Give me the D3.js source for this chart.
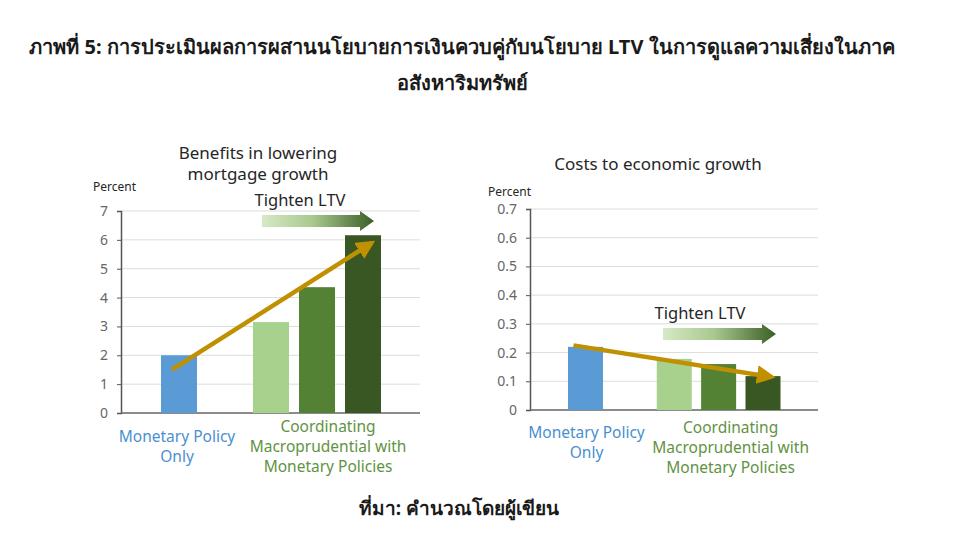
<!DOCTYPE html>
<html><head><meta charset="utf-8">
<script src="https://cdn.jsdelivr.net/npm/d3@7"></script>
<style>
body{margin:0;background:#fff;}
svg{display:block;font-family:"Noto Sans","Open Sans",sans-serif;}
</style></head>
<body>
<svg id="c" width="960" height="538"></svg>
<script>
// ---- data ----
const titleLines = ["ภาพที่ 5: การประเมินผลการผสานนโยบายการเงินควบคู่กับนโยบาย LTV ในการดูแลความเสี่ยงในภาค", "อสังหาริมทรัพย์"];
const sourceText = "ที่มา: คำนวณโดยผู้เขียน";
const slots = ["Monetary Policy Only", "gap", "LTV 1", "LTV 2", "LTV 3"];
const barSlots = ["Monetary Policy Only", "LTV 1", "LTV 2", "LTV 3"];
const benefitValues = [2.0, 3.15, 4.36, 6.16];
const costValues = [0.22, 0.178, 0.16, 0.118];
const benefitTicks = [0, 1, 2, 3, 4, 5, 6, 7];
const costTicks = [0, 0.1, 0.2, 0.3, 0.4, 0.5, 0.6, 0.7];
const benefitTrend = [1.5, 5.9];   // trend arrow start / end values
const costTrend = [0.225, 0.115];
const groupLabelA = ["Monetary Policy", "Only"];
const groupLabelB = ["Coordinating", "Macroprudential with", "Monetary Policies"];
const benefitTitle = ["Benefits in lowering", "mortgage growth"];
const costTitle = ["Costs to economic growth"];
const barColors = ["#5b9bd5", "#a9d18e", "#548235", "#385723"];

const svg = d3.select("#c");
const defs = svg.append("defs");
const g1 = defs.append("linearGradient").attr("id", "ltvGrad");
g1.append("stop").attr("offset", "0%").attr("stop-color", "#d6e9c6");
g1.append("stop").attr("offset", "45%").attr("stop-color", "#a9c98e");
g1.append("stop").attr("offset", "100%").attr("stop-color", "#3b5e27");
defs.append("marker").attr("id", "ohead").attr("viewBox", "0 0 10 10")
  .attr("refX", 8).attr("refY", 5).attr("markerWidth", 4.2).attr("markerHeight", 4.2)
  .attr("orient", "auto").attr("markerUnits", "strokeWidth")
  .append("path").attr("d", "M0,0 L10,5 L0,10 z").attr("fill", "#bf9000");

// title
svg.append("g").selectAll("text").data(titleLines).join("text")
  .attr("x", 462).attr("y", (d, i) => 54 + i * 36)
  .attr("text-anchor", "middle").attr("font-size", 20).attr("font-weight", "bold")
  .attr("fill", "#1a1a1a").text(d => d);
svg.append("text").attr("x", 459).attr("y", 515).attr("text-anchor", "middle")
  .attr("font-size", 19).attr("font-weight", "bold").attr("fill", "#1a1a1a").text(sourceText);

function panel(o) {
  const y = d3.scaleLinear().domain([0, o.ticks[o.ticks.length - 1]]).range([o.y0, o.y1]);
  const x = d3.scalePoint().domain(slots).range([o.c0, o.c1]);
  const g = svg.append("g");
  // grid
  g.append("g").selectAll("line").data(o.ticks.slice(1)).join("line")
    .attr("x1", o.ax).attr("x2", o.gx).attr("y1", d => y(d)).attr("y2", d => y(d))
    .attr("stroke", "#dcdcdc").attr("stroke-width", 1);
  // axis
  const ax = g.append("g").attr("transform", `translate(${o.ax},0)`)
    .call(d3.axisLeft(y).tickValues(o.ticks).tickSize(4).tickPadding(9).tickFormat(o.fmt));
  ax.select(".domain").attr("stroke", "#555").attr("stroke-width", 1.5);
  ax.selectAll(".tick line").attr("stroke", "#555");
  ax.selectAll("text").attr("font-size", 14).attr("fill", "#666").attr("font-family", "'Noto Sans',sans-serif");
  g.append("line").attr("x1", o.ax).attr("x2", o.gx).attr("y1", y(0)).attr("y2", y(0))
    .attr("stroke", "#666").attr("stroke-width", 1.3);
  // bars
  g.append("g").selectAll("rect").data(o.values).join("rect")
    .attr("x", (d, i) => x(barSlots[i]) - o.bw / 2).attr("width", o.bw)
    .attr("y", d => y(d)).attr("height", d => y(0) - y(d))
    .attr("fill", (d, i) => barColors[i]);
  // trend arrow
  g.append("line")
    .attr("x1", x(barSlots[0]) + o.trendDx[0]).attr("y1", y(o.trend[0]))
    .attr("x2", x(barSlots[3]) + o.trendDx[1]).attr("y2", y(o.trend[1]))
    .attr("stroke", "#bf9000").attr("stroke-width", 4.5).attr("marker-end", "url(#ohead)");
  // tighten LTV arrow
  const ta = g.append("g").attr("transform", `translate(${o.ltv[0]},${o.ltv[1]})`);
  const L = o.ltv[2];
  ta.append("path")
    .attr("d", `M0,-6 L${L - 14},-6 L${L - 14},-10 L${L},0 L${L - 14},10 L${L - 14},6 L0,6 Z`)
    .attr("fill", "url(#ltvGrad)");
  ta.append("text").attr("x", o.ltvText[0]).attr("y", o.ltvText[1]).attr("text-anchor", "middle")
    .attr("font-size", 16.5).attr("fill", "#262626").text("Tighten LTV");
  // title
  g.append("g").selectAll("text").data(o.title).join("text")
    .attr("x", o.tx).attr("y", (d, i) => o.ty + i * 21).attr("text-anchor", "middle")
    .attr("font-size", 17).attr("fill", "#262626").text(d => d);
  g.append("text").attr("x", o.px).attr("y", o.py).attr("font-size", 12).attr("fill", "#262626").text("Percent");
  // group labels
  g.append("g").selectAll("text").data(groupLabelA).join("text")
    .attr("x", x(slots[0]) + o.la[0]).attr("y", (d, i) => o.la[1] + i * 20).attr("text-anchor", "middle")
    .attr("font-size", 15.5).attr("fill", "#4a8fd1").text(d => d);
  g.append("g").selectAll("text").data(groupLabelB).join("text")
    .attr("x", x(slots[3]) + o.lb[0]).attr("y", (d, i) => o.lb[1] + i * 20).attr("text-anchor", "middle")
    .attr("font-size", 15.5).attr("fill", "#5f9343").text(d => d);
}

panel({ticks: benefitTicks, values: benefitValues, trend: benefitTrend, fmt: d3.format("d"),
  y0: 413, y1: 211, ax: 121, gx: 420, c0: 179, c1: 363, bw: 36, trendDx: [-7, 9],
  ltv: [262, 221, 112], ltvText: [38, -15], title: benefitTitle, tx: 258, ty: 159,
  px: 93, py: 191, la: [-2, 442], lb: [11, 432]});
panel({ticks: costTicks, values: costValues, trend: costTrend, fmt: d => d === 0 ? "0" : d3.format(".1f")(d),
  y0: 410, y1: 209, ax: 530, gx: 818, c0: 585.5, c1: 763, bw: 35, trendDx: [-12, 9],
  ltv: [663, 334, 113], ltvText: [37, -15], title: costTitle, tx: 658, ty: 170,
  px: 488, py: 196, la: [1, 438], lb: [12, 433]});
</script>
</body></html>
